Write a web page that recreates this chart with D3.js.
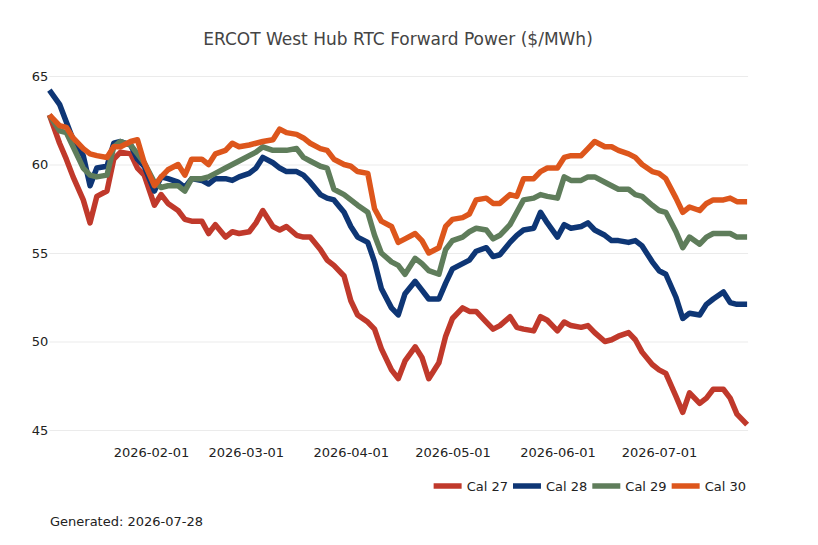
<!DOCTYPE html>
<html>
<head>
<meta charset="utf-8">
<script src="https://cdn.jsdelivr.net/npm/d3@7"></script>
<style>
  html, body { margin: 0; padding: 0; background: #fff; }
  svg { display: block; font-family: "DejaVu Sans", Verdana, sans-serif; }
</style>
</head>
<body>
<svg id="chart" width="818" height="545"></svg>
<script>
const dates = ["2026-01-02","2026-01-05","2026-01-07","2026-01-09","2026-01-12","2026-01-14","2026-01-16","2026-01-19","2026-01-21","2026-01-23","2026-01-26","2026-01-28","2026-01-30",
"2026-02-02","2026-02-04","2026-02-06","2026-02-09","2026-02-11","2026-02-13","2026-02-16","2026-02-18","2026-02-20","2026-02-23","2026-02-25","2026-02-27",
"2026-03-02","2026-03-04","2026-03-06","2026-03-09","2026-03-11","2026-03-13","2026-03-16","2026-03-18","2026-03-20","2026-03-23","2026-03-25","2026-03-27","2026-03-30",
"2026-04-01","2026-04-03","2026-04-06","2026-04-08","2026-04-10","2026-04-13","2026-04-15","2026-04-17","2026-04-20","2026-04-22","2026-04-24","2026-04-27","2026-04-29",
"2026-05-01","2026-05-04","2026-05-06","2026-05-08","2026-05-11","2026-05-13","2026-05-15","2026-05-18","2026-05-20","2026-05-22","2026-05-25","2026-05-27","2026-05-29",
"2026-06-01","2026-06-03","2026-06-05","2026-06-08","2026-06-10","2026-06-12","2026-06-15","2026-06-17","2026-06-19","2026-06-22","2026-06-24","2026-06-26","2026-06-29",
"2026-07-01","2026-07-03","2026-07-06","2026-07-08","2026-07-10","2026-07-13","2026-07-15","2026-07-17","2026-07-20","2026-07-22","2026-07-24","2026-07-27"];

const cal27 = [62.8,61.2,60.3,59.3,58.0,56.7,58.2,58.5,60.3,60.7,60.6,59.8,59.4,
57.7,58.3,57.8,57.4,56.9,56.8,56.8,56.1,56.6,55.9,56.2,56.1,
56.2,56.7,57.4,56.5,56.3,56.5,56.0,55.9,55.9,55.2,54.6,54.3,53.7,
52.3,51.5,51.1,50.7,49.6,48.4,47.9,48.9,49.7,49.1,47.9,48.8,50.3,
51.3,51.9,51.7,51.7,51.1,50.7,50.9,51.4,50.8,50.7,50.6,51.4,51.2,
50.6,51.1,50.9,50.8,50.9,50.5,50.0,50.1,50.3,50.5,50.1,49.4,48.7,
48.4,48.2,46.9,46.0,47.1,46.5,46.8,47.3,47.3,46.8,45.9,45.3];

const cal28 = [64.2,63.4,62.4,61.4,60.5,58.8,59.8,59.9,61.2,61.3,61.1,60.3,59.9,
58.5,59.3,59.2,59.0,58.7,59.2,59.1,58.9,59.2,59.2,59.1,59.3,
59.5,59.8,60.4,60.1,59.8,59.6,59.6,59.4,59.0,58.3,58.1,58.0,57.3,
56.5,55.9,55.6,54.5,53.0,51.9,51.5,52.7,53.4,52.9,52.4,52.4,53.3,
54.1,54.4,54.6,55.1,55.3,54.8,54.9,55.6,56.0,56.3,56.4,57.3,56.7,
55.9,56.6,56.4,56.5,56.7,56.3,56.0,55.7,55.7,55.6,55.7,55.4,54.5,
54.0,53.8,52.5,51.3,51.6,51.5,52.1,52.4,52.8,52.2,52.1,52.1];

const cal29 = [62.8,61.9,61.8,61.0,59.8,59.4,59.3,59.4,61.0,61.3,61.1,60.6,60.1,
59.0,58.7,58.8,58.8,58.5,59.2,59.2,59.3,59.5,59.8,60.0,60.2,
60.5,60.7,61.0,60.8,60.8,60.8,60.9,60.4,60.2,59.9,59.8,58.6,58.3,
58.0,57.7,57.3,56.0,55.0,54.5,54.3,53.8,54.7,54.4,54.0,53.8,55.2,
55.7,55.9,56.2,56.4,56.3,55.8,56.0,56.6,57.3,58.0,58.1,58.3,58.2,
58.1,59.3,59.1,59.1,59.3,59.3,59.0,58.8,58.6,58.6,58.3,58.2,57.7,
57.4,57.3,56.2,55.3,55.9,55.5,55.9,56.1,56.1,56.1,55.9,55.9];

const cal30 = [62.8,62.2,62.1,61.5,60.9,60.6,60.5,60.4,61.0,61.0,61.3,61.4,60.1,
58.8,59.3,59.7,60.0,59.4,60.3,60.3,60.0,60.6,60.8,61.2,61.0,
61.1,61.2,61.3,61.4,62.0,61.8,61.7,61.5,61.2,60.9,60.8,60.3,60.0,
59.9,59.6,59.5,57.5,56.8,56.5,55.6,55.8,56.1,55.7,55.0,55.3,56.5,
56.9,57.0,57.2,58.0,58.1,57.8,57.8,58.3,58.2,59.2,59.2,59.6,59.8,
59.8,60.4,60.5,60.5,60.9,61.3,61.0,61.0,60.8,60.6,60.4,60.0,59.6,
59.5,59.2,58.1,57.3,57.6,57.4,57.8,58.0,58.0,58.1,57.9,57.9];

const seriesNames = ["Cal 27","Cal 28","Cal 29","Cal 30"];
const seriesColors = ["#c0392b","#0e3675","#5f7d5b","#dd561c"];
const xTickLabels = ["2026-02-01","2026-03-01","2026-04-01","2026-05-01","2026-06-01","2026-07-01"];
const yTickValues = [45,50,55,60,65];
const titleText = "ERCOT West Hub RTC Forward Power ($/MWh)";
const footerText = "Generated: 2026-07-28";

const parse = d3.utcParse("%Y-%m-%d");
const fmt = d3.utcFormat("%Y-%m-%d");
const parsedDates = dates.map(parse);
const allSeries = [cal27, cal28, cal29, cal30].map((vals, i) => ({
  name: seriesNames[i], color: seriesColors[i],
  points: vals.map((v, j) => ({ date: parsedDates[j], value: v }))
}));

const svg = d3.select("#chart");
const plotLeft = 49.4, plotRight = 747.1;
const x = d3.scaleUtc().domain(d3.extent(parsedDates)).range([plotLeft, plotRight]);
const y = d3.scaleLinear().domain([45, 65]).range([430, 76]);

// Title
svg.append("text")
  .attr("x", 398).attr("y", 45)
  .attr("text-anchor", "middle")
  .attr("font-size", 17).attr("fill", "#444")
  .text(titleText);

// Y axis with gridlines
const yAxis = d3.axisLeft(y).tickValues(yTickValues).tickSize(-(plotRight - plotLeft + 1)).tickPadding(4).tickFormat(d3.format("d"));
const gy = svg.append("g").attr("transform", `translate(${plotLeft},0)`).call(yAxis);
gy.select(".domain").remove();
gy.selectAll(".tick line").attr("stroke", "#ebebeb").attr("stroke-width", 1);
gy.selectAll(".tick text").attr("font-size", 13).attr("fill", "#222").attr("x", -1)
  .style("font-family", "DejaVu Sans, Verdana, sans-serif");

// X axis
const xAxis = d3.axisBottom(x).tickValues(xTickLabels.map(parse)).tickSize(0).tickPadding(0).tickFormat(fmt);
const gx = svg.append("g").attr("transform", `translate(0,445)`).call(xAxis);
gx.select(".domain").remove();
gx.selectAll(".tick text").attr("font-size", 13).attr("fill", "#222").attr("dy", "0.9em")
  .style("font-family", "DejaVu Sans, Verdana, sans-serif");

// Lines
const line = d3.line().x(d => x(d.date)).y(d => y(d.value));
svg.append("g").selectAll("path").data(allSeries).join("path")
  .attr("d", d => line(d.points))
  .attr("fill", "none")
  .attr("stroke", d => d.color)
  .attr("stroke-width", 5.5)
  .attr("stroke-linejoin", "round")
  .attr("stroke-linecap", "butt");

// Legend (right-aligned at plot right edge)
const legend = svg.append("g");
let lx = 0;
allSeries.forEach(s => {
  const g = legend.append("g").attr("transform", `translate(${lx},0)`);
  g.append("line").attr("x1", 0).attr("x2", 28).attr("y1", 0).attr("y2", 0)
    .attr("stroke", s.color).attr("stroke-width", 5.5);
  const t = g.append("text").attr("x", 33).attr("y", 0).attr("dy", "0.35em")
    .attr("font-size", 13).attr("fill", "#222").text(s.name);
  const w = t.node().getComputedTextLength();
  lx += 33 + w + 5;
});
const legendWidth = lx - 5;
legend.attr("transform", `translate(${746 - legendWidth},486)`);

// Footer
svg.append("text").attr("x", 50).attr("y", 526)
  .attr("font-size", 13).attr("fill", "#222").text(footerText);
</script>
</body>
</html>
